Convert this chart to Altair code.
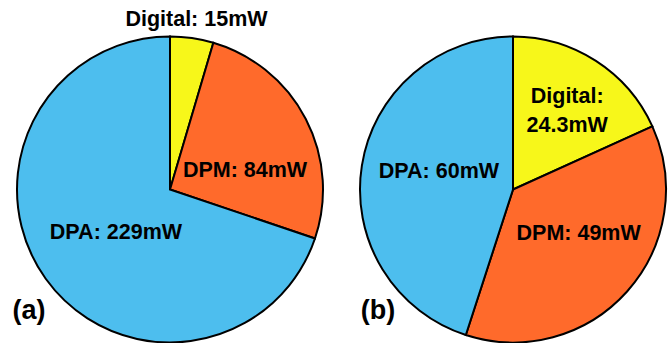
import altair as alt
import pandas as pd

categories = ["Digital", "DPM", "DPA"]
power_a = [15, 84, 229]
power_b = [24.3, 49, 60]
labels_a = ["Digital: 15mW", "DPM: 84mW", "DPA: 229mW"]
labels_b = ["Digital:\n24.3mW", "DPM: 49mW", "DPA: 60mW"]
panel_names = ["(a)", "(b)"]
colors = ["#F7F71A", "#FF6A2B", "#4DBEEE"]

FONT = "Liberation Sans"
R = 153

df_a = pd.DataFrame({"category": categories, "power": power_a, "label": labels_a, "idx": [0, 1, 2]})
df_b = pd.DataFrame({"category": categories, "power": power_b, "label": labels_b, "idx": [0, 1, 2]})

color_scale = alt.Scale(domain=categories, range=colors)


def pie(df, cx, cy, label_style, panel, px, py):
    base = alt.Chart(df)
    arcs = base.mark_arc(outerRadius=R, stroke="black", strokeWidth=2).encode(
        theta=alt.Theta("power:Q", stack=True),
        color=alt.Color("category:N", scale=color_scale, legend=None),
        order=alt.Order("idx:Q"),
        x=alt.value(cx),
        y=alt.value(cy),
    )
    layers = [arcs]
    for cat, (r, dx, dy) in label_style.items():
        t = (
            base.transform_joinaggregate(total="sum(power)")
            .transform_window(cum="sum(power)", sort=[alt.SortField("idx")], frame=[None, 0])
            .transform_calculate(mid="(datum.cum - datum.power/2)/datum.total*2*PI")
            .transform_filter(alt.datum.category == cat)
            .mark_text(
                radius=r, dx=dx, dy=dy, font=FONT, fontWeight="bold", fontSize=21.5,
                color="black", align="center", baseline="middle", lineBreak="\n", lineHeight=29,
            )
            .encode(
                theta=alt.Theta("mid:Q", scale=None),
                text="label:N",
                x=alt.value(cx),
                y=alt.value(cy),
            )
        )
        layers.append(t)
    ptxt = alt.Chart(pd.DataFrame({"name": [panel]})).mark_text(
        font=FONT, fontWeight="bold", fontSize=27, color="black", align="center", baseline="middle"
    ).encode(text="name:N", x=alt.value(px), y=alt.value(py))
    layers.append(ptxt)
    return alt.layer(*layers)


style_a = {"Digital": (171, 2, 0), "DPM": (80, 4, 18), "DPA": (69, 2, 3)}
style_b = {"Digital": (100, 0, -8), "DPM": (80, 6, -9), "DPA": (76, 1, -6)}

chart = alt.layer(
    pie(df_a, 170, 189.5, style_a, panel_names[0], 29, 311),
    pie(df_b, 513, 189.5, style_b, panel_names[1], 378, 311),
).resolve_scale(theta="independent").properties(
    width=668, height=343, padding=0, autosize=alt.AutoSizeParams(type="none")
).configure_view(stroke=None)

chart.save("out.html", embed_options={"renderer": "svg", "actions": False})
